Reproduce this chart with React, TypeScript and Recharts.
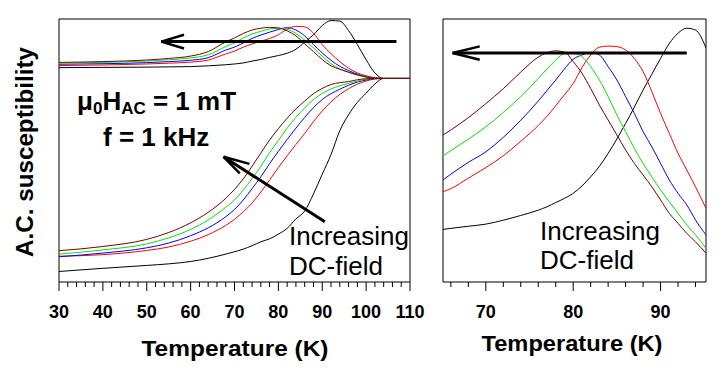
import React from 'react'
import { LineChart, Line, XAxis, YAxis, ReferenceLine, ReferenceArea } from 'recharts'

const FONT = '"Liberation Sans", Arial, sans-serif'

// left panel, 30-110 K (arbitrary units on y)
const T_WIDE = [30, 40, 50, 55, 60, 64, 68, 70, 72, 74, 76, 78, 80, 82, 84, 86, 88, 90, 92, 94, 96, 98, 100, 102, 104, 110]

// upper set of curves (peaks)
const IM_BLACK = [81.5, 81.6, 81.7, 81.8, 81.9, 82.2, 82.6, 82.9, 83.3, 84.0, 84.6, 85.4, 86.1, 87.0, 88.5, 91.2, 94.0, 97.5, 99.4, 99.2, 95.6, 90.3, 84.5, 79.5, 77.4, 77.4]
const IM_RED = [82.3, 82.5, 82.9, 83.2, 83.6, 84.4, 86.7, 87.8, 89.3, 90.5, 91.6, 92.6, 94.0, 96.2, 97.2, 97.0, 94.6, 90.2, 86.8, 83.8, 81.3, 79.5, 78.4, 77.7, 77.4, 77.4]
const IM_BLUE = [82.8, 83.0, 83.4, 83.8, 84.3, 85.3, 88.2, 89.3, 90.9, 92.6, 93.9, 95.0, 96.0, 96.7, 95.8, 93.6, 90.3, 87.1, 84.3, 82.0, 80.4, 79.0, 78.0, 77.5, 77.4, 77.4]
const IM_GREEN = [83.2, 83.5, 84.0, 84.5, 85.2, 86.4, 89.5, 90.9, 92.8, 94.3, 95.3, 96.2, 96.5, 96.1, 94.5, 92.0, 89.0, 85.9, 83.0, 81.0, 79.7, 78.6, 77.9, 77.5, 77.4, 77.4]
const IM_MAROON = [83.5, 83.8, 84.4, 85.0, 85.9, 87.6, 91.3, 92.8, 94.5, 95.8, 96.5, 96.8, 96.6, 95.5, 93.6, 90.6, 87.6, 84.6, 82.2, 80.9, 79.8, 78.8, 78.0, 77.5, 77.4, 77.4]

// lower set of curves (steps)
const RE_BLACK = [4.0, 5.2, 6.3, 6.9, 7.8, 9.0, 10.6, 11.5, 12.5, 13.8, 15.3, 16.4, 18.2, 20.4, 24.0, 27.0, 33.5, 41.0, 48.5, 57.5, 63.6, 68.3, 71.8, 75.3, 77.4, 77.4]
const RE_RED = [9.8, 10.4, 12.0, 13.3, 15.5, 18.0, 21.5, 23.8, 26.7, 30.0, 34.2, 38.8, 43.5, 48.0, 52.3, 56.5, 61.0, 65.0, 68.5, 71.3, 73.5, 75.2, 76.4, 77.2, 77.4, 77.4]
const RE_BLUE = [9.6, 11.0, 13.0, 14.8, 17.6, 20.6, 24.8, 27.6, 31.2, 35.5, 40.0, 45.0, 49.7, 54.2, 58.5, 62.6, 66.3, 69.4, 71.6, 73.3, 74.8, 76.0, 76.8, 77.3, 77.4, 77.4]
const RE_GREEN = [10.6, 12.2, 14.5, 16.8, 20.0, 23.6, 28.4, 31.2, 35.0, 39.3, 44.0, 49.2, 53.8, 58.5, 62.6, 66.2, 69.4, 71.7, 73.4, 74.6, 75.5, 76.4, 77.1, 77.4, 77.4, 77.4]
const RE_MAROON = [11.9, 13.5, 16.2, 18.8, 22.5, 26.5, 31.8, 35.2, 39.2, 44.0, 49.0, 54.0, 58.3, 62.3, 65.8, 68.8, 71.6, 73.6, 75.1, 75.8, 76.2, 76.9, 77.3, 77.4, 77.4, 77.4]

// right panel, zoom on the peaks
const T_ZOOM = [65.1, 66, 68, 70, 72, 74, 76, 77, 78, 79, 80, 81, 82, 83, 84, 85, 86, 87, 88, 89, 90, 91, 92, 93, 94, 95.2]
const Z_BLACK = [20.0, 20.4, 21.2, 22.0, 23.5, 25.3, 27.3, 28.6, 30.2, 31.8, 33.7, 36.5, 40.0, 44.0, 48.9, 54.4, 60.3, 66.5, 73.0, 79.0, 85.0, 90.7, 94.6, 96.5, 95.8, 89.0]
const Z_RED = [34.3, 35.5, 39.5, 43.5, 48.0, 53.5, 59.5, 63.0, 67.0, 71.2, 75.5, 81.5, 86.3, 89.3, 89.7, 89.5, 88.2, 85.0, 80.0, 72.4, 64.1, 56.5, 48.9, 42.6, 36.2, 28.0]
const Z_BLUE = [38.8, 41.0, 45.5, 49.5, 55.0, 61.5, 68.8, 72.8, 76.8, 81.0, 84.7, 86.3, 87.2, 86.3, 81.9, 76.8, 70.5, 64.1, 57.2, 51.4, 45.1, 38.8, 33.7, 29.3, 23.6, 17.9]
const Z_GREEN = [47.9, 50.0, 54.3, 59.0, 64.5, 70.5, 77.4, 81.0, 84.4, 86.8, 87.0, 85.7, 81.9, 76.8, 70.5, 63.5, 57.2, 50.8, 45.1, 40.0, 35.0, 30.5, 26.1, 21.7, 17.9, 12.8]
const Z_MAROON = [55.9, 57.8, 62.5, 67.8, 73.5, 79.8, 85.5, 87.2, 87.9, 87.4, 83.8, 79.4, 73.6, 67.3, 61.6, 55.9, 50.2, 45.1, 40.7, 36.2, 31.2, 26.1, 22.3, 18.5, 15.3, 10.9]

const WIDE_TICKS = [30, 32, 34, 36, 38, 40, 42, 44, 46, 48, 50, 52, 54, 56, 58, 60, 62, 64, 66, 68, 70, 72, 74, 76, 78, 80, 82, 84, 86, 88, 90, 92, 94, 96, 98, 100, 102, 104, 106, 108, 110]
const ZOOM_TICKS = [66, 68, 70, 72, 74, 76, 78, 80, 82, 84, 86, 88, 90, 92, 94]

const COLORS = {
  black: '#000000',
  red: '#ff0000',
  blue: '#0000ff',
  green: '#00e600',
  maroon: '#7a0000',
}
const ORDER = ['black', 'red', 'blue', 'green', 'maroon'] as const

const wideData = T_WIDE.map((t, i) => ({
  t,
  im_black: IM_BLACK[i], im_red: IM_RED[i], im_blue: IM_BLUE[i], im_green: IM_GREEN[i], im_maroon: IM_MAROON[i],
  re_black: RE_BLACK[i], re_red: RE_RED[i], re_blue: RE_BLUE[i], re_green: RE_GREEN[i], re_maroon: RE_MAROON[i],
}))

const zoomData = T_ZOOM.map((t, i) => ({
  t,
  black: Z_BLACK[i], red: Z_RED[i], blue: Z_BLUE[i], green: Z_GREEN[i], maroon: Z_MAROON[i],
}))

function TempTick(props: any) {
  const { x, y, payload } = props
  const major = Math.round(payload.value) % 10 === 0
  return (
    <g>
      <line x1={x} x2={x} y1={y} y2={y + (major ? 9 : 5)} stroke="#000" strokeWidth={1} />
      {major && (
        <text x={x} y={y + 36} textAnchor="middle" fontSize={18} fontWeight="bold" fontFamily={FONT} fill="#000">
          {payload.value}
        </text>
      )}
    </g>
  )
}

const arrow = { stroke: '#000', strokeWidth: 3 }
const head = { stroke: '#000', strokeWidth: 2.5 }

export default function App() {
  return (
    <div style={{ position: 'absolute', left: 0, top: 0, width: 726, height: 380, background: '#fff', fontFamily: FONT }}>
      <div style={{ position: 'absolute', left: 0, top: 0 }}>
        <LineChart width={430} height={380} data={wideData} margin={{ top: 19, right: 20, left: 59, bottom: 58 }}>
          <XAxis dataKey="t" type="number" domain={[30, 110]} ticks={WIDE_TICKS} interval={0}
            tickSize={0} tickMargin={0} tickLine={false} axisLine={false} tick={<TempTick />} height={40} allowDataOverflow />
          <YAxis type="number" domain={[0, 100]} hide width={0} />
          <ReferenceArea x1={30} x2={110} y1={0} y2={100} fill="none" stroke="#000" strokeWidth={1} />
          {ORDER.map(c => (
            <Line key={'im' + c} dataKey={'im_' + c} type="monotone" stroke={COLORS[c]} strokeWidth={1} dot={false} isAnimationActive={false} />
          ))}
          {ORDER.map(c => (
            <Line key={'re' + c} dataKey={'re_' + c} type="monotone" stroke={COLORS[c]} strokeWidth={1} dot={false} isAnimationActive={false} />
          ))}
          <ReferenceLine segment={[{ x: 106.9, y: 91.4 }, { x: 53.3, y: 91.4 }]} {...arrow} />
          <ReferenceLine segment={[{ x: 53.3, y: 91.4 }, { x: 58.5, y: 94.0 }]} {...head} />
          <ReferenceLine segment={[{ x: 53.3, y: 91.4 }, { x: 58.5, y: 88.8 }]} {...head} />
          <ReferenceLine segment={[{ x: 90.6, y: 22.9 }, { x: 67.5, y: 47.6 }]} {...arrow} />
          <ReferenceLine segment={[{ x: 67.5, y: 47.6 }, { x: 73.4, y: 44.9 }]} {...head} />
          <ReferenceLine segment={[{ x: 67.5, y: 47.6 }, { x: 71.2, y: 41.3 }]} {...head} />
        </LineChart>
      </div>
      <div style={{ position: 'absolute', left: 430, top: 0 }}>
        <LineChart width={296} height={380} data={zoomData} margin={{ top: 19, right: 20, left: 13, bottom: 58 }}>
          <XAxis dataKey="t" type="number" domain={[65.1, 95.2]} ticks={ZOOM_TICKS} interval={0}
            tickSize={0} tickMargin={0} tickLine={false} axisLine={false} tick={<TempTick />} height={40} allowDataOverflow />
          <YAxis type="number" domain={[0, 100]} hide width={0} />
          <ReferenceArea x1={65.1} x2={95.2} y1={0} y2={100} fill="none" stroke="#000" strokeWidth={1} />
          {ORDER.map(c => (
            <Line key={c} dataKey={c} type="monotone" stroke={COLORS[c]} strokeWidth={1} dot={false} isAnimationActive={false} />
          ))}
          <ReferenceLine segment={[{ x: 93.0, y: 87.1 }, { x: 66.2, y: 87.1 }]} {...arrow} />
          <ReferenceLine segment={[{ x: 66.2, y: 87.1 }, { x: 69.3, y: 89.6 }]} {...head} />
          <ReferenceLine segment={[{ x: 66.2, y: 87.1 }, { x: 69.3, y: 84.5 }]} {...head} />
        </LineChart>
      </div>
      <svg width={726} height={380} style={{ position: 'absolute', left: 0, top: 0, pointerEvents: 'none' }} fontFamily={FONT}>
        <text transform="translate(33,152) rotate(-90)" textAnchor="middle" fontSize={23} fontWeight="bold" textLength={210} lengthAdjust="spacingAndGlyphs">
          A.C. susceptibility
        </text>
        <text x={77} y={110} fontSize={26} fontWeight="bold">
          μ<tspan fontSize={17} dy={4}>0</tspan>
          <tspan dy={-4}>H</tspan>
          <tspan fontSize={17} dy={4}>AC</tspan>
          <tspan dy={-4}> = 1 mT</tspan>
        </text>
        <text x={103} y={146} fontSize={26} fontWeight="bold">f = 1 kHz</text>
        <text x={289} y={245} fontSize={26}>Increasing</text>
        <text x={289} y={275} fontSize={26}>DC-field</text>
        <text x={540} y={240} fontSize={26}>Increasing</text>
        <text x={540} y={269} fontSize={26}>DC-field</text>
        <text x={235} y={356} textAnchor="middle" fontSize={22} fontWeight="bold" textLength={187} lengthAdjust="spacingAndGlyphs">
          Temperature (K)
        </text>
        <text x={572} y={351} textAnchor="middle" fontSize={22} fontWeight="bold" textLength={181} lengthAdjust="spacingAndGlyphs">
          Temperature (K)
        </text>
      </svg>
    </div>
  )
}
